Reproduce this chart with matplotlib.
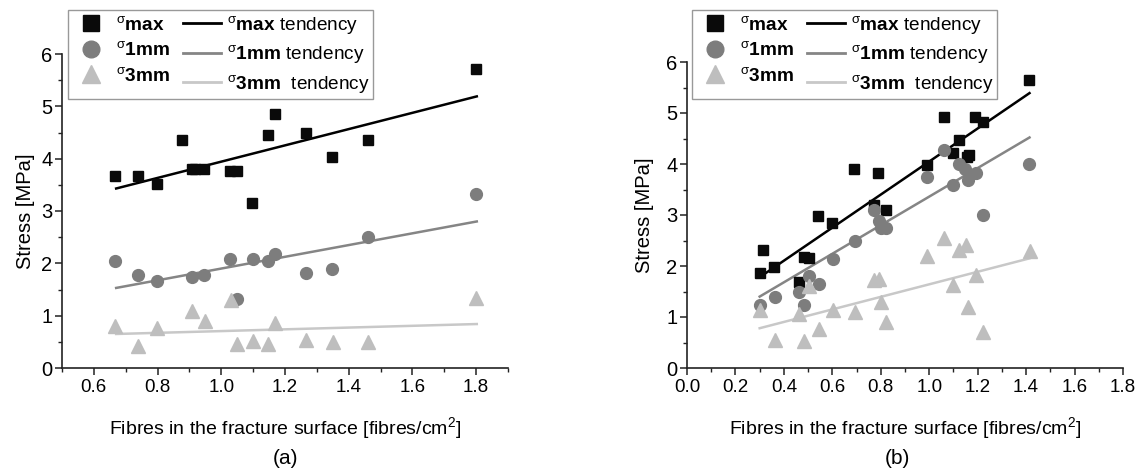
import numpy as np
import matplotlib
matplotlib.use("Agg")
import matplotlib.pyplot as plt
from matplotlib.lines import Line2D
from matplotlib.ticker import MultipleLocator

plt.rcParams["font.family"] = ["Liberation Sans", "DejaVu Sans"]
plt.rcParams["mathtext.fontset"] = "custom"
plt.rcParams["mathtext.rm"] = "Liberation Sans"
plt.rcParams["mathtext.bf"] = "Liberation Sans:bold"
plt.rcParams["mathtext.it"] = "Liberation Sans:italic"

# --- panel (a) data ---
a_max_x = [0.667, 0.737, 0.798, 0.877, 0.908, 0.918, 0.947, 1.028, 1.050, 1.097,
           1.148, 1.169, 1.267, 1.348, 1.459, 1.799]
a_max_y = [3.67, 3.67, 3.51, 4.36, 3.80, 3.81, 3.80, 3.76, 3.77, 3.15,
           4.45, 4.86, 4.49, 4.03, 4.36, 5.71]
a_1mm_x = [0.667, 0.737, 0.798, 0.908, 0.947, 1.028, 1.050, 1.099, 1.148, 1.169,
           1.267, 1.348, 1.459, 1.799]
a_1mm_y = [2.05, 1.78, 1.67, 1.73, 1.78, 2.09, 1.32, 2.09, 2.04, 2.17,
           1.82, 1.89, 2.50, 3.32]
a_3mm_x = [0.667, 0.737, 0.798, 0.909, 0.950, 1.030, 1.049, 1.099, 1.148, 1.170,
           1.267, 1.350, 1.461, 1.800]
a_3mm_y = [0.80, 0.42, 0.77, 1.09, 0.89, 1.30, 0.45, 0.51, 0.45, 0.86,
           0.54, 0.50, 0.50, 1.34]
a_trend_x = [0.670, 1.802]
a_trend_max = [3.43, 5.19]
a_trend_1mm = [1.53, 2.80]
a_trend_3mm = [0.65, 0.84]

# --- panel (b) data ---
b_max_x = [0.300, 0.312, 0.360, 0.462, 0.481, 0.505, 0.541, 0.600, 0.691, 0.770,
           0.790, 0.821, 0.990, 1.061, 1.100, 1.121, 1.155, 1.164, 1.190, 1.221, 1.410]
b_max_y = [1.86, 2.32, 1.98, 1.68, 2.17, 2.15, 2.98, 2.85, 3.91, 3.20,
           3.82, 3.10, 3.98, 4.92, 4.22, 4.47, 4.14, 4.17, 4.92, 4.83, 5.64]
b_1mm_x = [0.300, 0.362, 0.462, 0.481, 0.502, 0.543, 0.601, 0.692, 0.770, 0.791,
           0.801, 0.823, 0.990, 1.059, 1.100, 1.121, 1.149, 1.160, 1.193, 1.221, 1.411]
b_1mm_y = [1.23, 1.40, 1.49, 1.24, 1.81, 1.64, 2.14, 2.49, 3.10, 2.89,
           2.74, 2.74, 3.75, 4.27, 3.59, 4.00, 3.91, 3.69, 3.82, 3.00, 4.00]
b_3mm_x = [0.300, 0.362, 0.462, 0.481, 0.502, 0.543, 0.601, 0.692, 0.770, 0.794,
           0.801, 0.823, 0.990, 1.061, 1.100, 1.121, 1.153, 1.162, 1.193, 1.221, 1.414]
b_3mm_y = [1.13, 0.55, 1.06, 0.52, 1.61, 0.76, 1.14, 1.10, 1.73, 1.74,
           1.30, 0.90, 2.19, 2.54, 1.63, 2.32, 2.41, 1.19, 1.82, 0.70, 2.30]
b_trend_x = [0.300, 1.414]
b_trend_max = [1.78, 5.39]
b_trend_1mm = [1.40, 4.52]
b_trend_3mm = [0.78, 2.15]

x_label = "Fibres in the fracture surface [fibres/cm$^{2}$]"
y_label = "Stress [MPa]"
series_names = ["max", "1mm", "3mm"]

c_max, c_1mm, c_3mm = "#0a0a0a", "#7d7d7d", "#bebebe"
l_max, l_1mm, l_3mm = "#000000", "#858585", "#c8c8c8"


def style_axes(ax, xlim, xmajor, ylabelpad):
    ax.set_xlim(*xlim)
    ax.set_ylim(0, 6)
    for s in ["top", "right"]:
        ax.spines[s].set_visible(False)
    for s in ["left", "bottom"]:
        ax.spines[s].set_color("#222222")
        ax.spines[s].set_linewidth(1.2)
    ax.xaxis.set_major_locator(MultipleLocator(xmajor))
    ax.xaxis.set_minor_locator(MultipleLocator(xmajor / 2))
    ax.yaxis.set_major_locator(MultipleLocator(1))
    ax.yaxis.set_minor_locator(MultipleLocator(0.5))
    ax.xaxis.set_major_formatter(plt.FormatStrFormatter("%.1f"))
    ax.tick_params(which="major", direction="out", length=5, width=1.1,
                   color="#222222", labelsize=13.5, pad=3)
    ax.tick_params(which="minor", direction="out", length=3, width=1.0,
                   color="#222222")
    ax.tick_params(axis="y", labelsize=14.5, pad=2)
    ax.set_xlabel(x_label, fontsize=14, labelpad=14)
    ax.set_ylabel(y_label, fontsize=14.5, labelpad=ylabelpad)


def draw_panel(ax, xs, ys, tx, trends, legend_anchor):
    ax.plot(xs[0], ys[0], "s", color=c_max, ms=7.5, mec=c_max, zorder=3)
    ax.plot(xs[1], ys[1], "o", color=c_1mm, ms=8.5, mec=c_1mm, zorder=3)
    ax.plot(xs[2], ys[2], "^", color=c_3mm, ms=9.5, mec=c_3mm, zorder=3)
    ax.plot(tx, trends[0], "-", color=l_max, lw=1.8, zorder=2)
    ax.plot(tx, trends[1], "-", color=l_1mm, lw=1.8, zorder=2)
    ax.plot(tx, trends[2], "-", color=l_3mm, lw=1.8, zorder=2)

    handles = [
        Line2D([], [], ls="none", marker="s", color=c_max, ms=11),
        Line2D([], [], ls="none", marker="o", color=c_1mm, ms=12),
        Line2D([], [], ls="none", marker="^", color=c_3mm, ms=13),
        Line2D([], [], color=l_max, lw=2),
        Line2D([], [], color=l_1mm, lw=2),
        Line2D([], [], color=l_3mm, lw=2),
    ]
    sym = [r"$^{\mathrm{\sigma}}\mathbf{%s}$" % n for n in series_names]
    labels = sym + [sym[0] + " tendency", sym[1] + " tendency", sym[2] + "  tendency"]
    leg = ax.legend(handles, labels, ncol=2, loc="upper left",
                    bbox_to_anchor=legend_anchor, bbox_transform=ax.figure.transFigure,
                    fontsize=13.7, frameon=True, fancybox=False, framealpha=1,
                    edgecolor="#999999", handlelength=2.0, handletextpad=0.3,
                    labelspacing=0.4, columnspacing=0.7, borderpad=0.2,
                    borderaxespad=0)
    leg.get_frame().set_linewidth(1.0)
    leg.set_zorder(5)


fig = plt.figure(figsize=(11.44, 4.68), dpi=100)

ax_a = fig.add_axes([62 / 1144, 1 - 368 / 468, 446 / 1144, 314 / 468])
style_axes(ax_a, (0.5, 1.9), 0.2, 4)
draw_panel(ax_a, [a_max_x, a_1mm_x, a_3mm_x], [a_max_y, a_1mm_y, a_3mm_y],
           a_trend_x, [a_trend_max, a_trend_1mm, a_trend_3mm], (68 / 1144, 1 - 10 / 468))

ax_b = fig.add_axes([687 / 1144, 1 - 368 / 468, 436 / 1144, 306 / 468])
style_axes(ax_b, (0.0, 1.8), 0.2, 9)
draw_panel(ax_b, [b_max_x, b_1mm_x, b_3mm_x], [b_max_y, b_1mm_y, b_3mm_y],
           b_trend_x, [b_trend_max, b_trend_1mm, b_trend_3mm], (692 / 1144, 1 - 10 / 468))

fig.text(285 / 1144, 1 - 458 / 468, "(a)", ha="center", va="center", fontsize=15)
fig.text(897 / 1144, 1 - 458 / 468, "(b)", ha="center", va="center", fontsize=15)

fig.savefig("out.png", dpi=100, facecolor="white")
